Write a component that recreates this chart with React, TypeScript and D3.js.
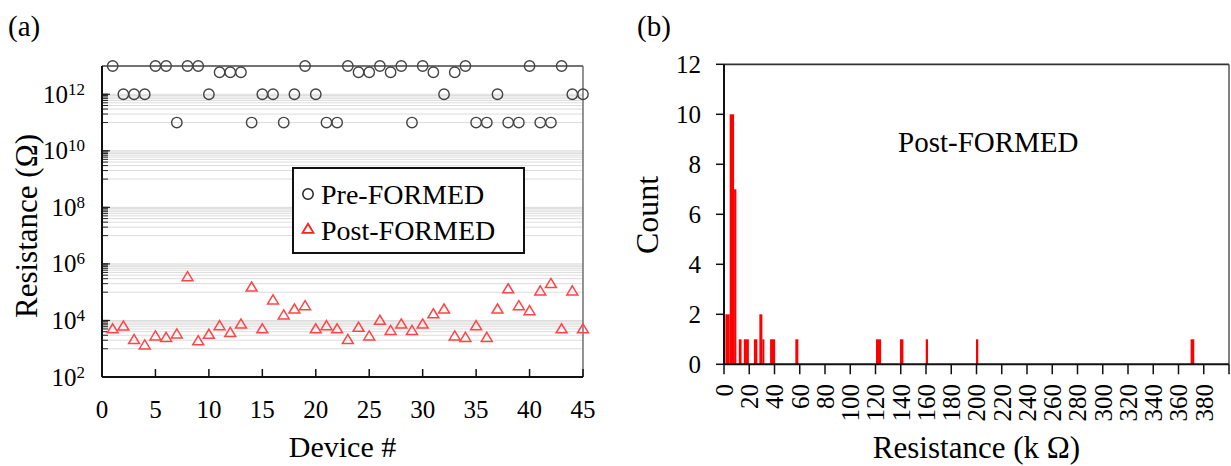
import React from "react";
import * as d3 from "d3";

// ---------- Data: panel (a) ----------
const devices = [1, 2, 3, 4, 5, 6, 7, 8, 9, 10, 11, 12, 13, 14, 15, 16, 17, 18, 19, 20, 21, 22, 23, 24, 25, 26, 27, 28, 29, 30, 31, 32, 33, 34, 35, 36, 37, 38, 39, 40, 41, 42, 43, 44, 45];
const preFormed = [1e13, 1e12, 1e12, 1e12, 1e13, 1e13, 1e11, 1e13, 1e13, 1e12, 6e12, 6e12, 6e12, 1e11, 1e12, 1e12, 1e11, 1e12, 1e13, 1e12, 1e11, 1e11, 1e13, 6e12, 6e12, 1e13, 6e12, 1e13, 1e11, 1e13, 6e12, 1e12, 6e12, 1e13, 1e11, 1e11, 1e12, 1e11, 1e11, 1e13, 1e11, 1e11, 1e13, 1e12, 1e12];
const postFormed = [5.0e3, 6.3e3, 2.1e3, 1.35e3, 2.8e3, 2.5e3, 3.3e3, 3.5e5, 1.9e3, 3.2e3, 6.5e3, 3.7e3, 7.4e3, 1.5e5, 5.0e3, 5.3e4, 1.55e4, 2.5e4, 3.3e4, 5.0e3, 6.5e3, 5.0e3, 2.1e3, 5.7e3, 2.8e3, 1.0e4, 4.4e3, 7.4e3, 4.4e3, 7.4e3, 1.7e4, 2.5e4, 2.8e3, 2.5e3, 6.5e3, 2.5e3, 2.5e4, 1.3e5, 3.3e4, 2.2e4, 1.1e5, 2.0e5, 5.0e3, 1.1e5, 5.0e3];
const xTicksA = [0, 5, 10, 15, 20, 25, 30, 35, 40, 45];
const yExpA = [2, 4, 6, 8, 10, 12];
const gridExpA = [4, 6, 8, 10, 12];
const minorMult = [1, 2, 3, 4, 5, 6, 7, 8, 9, 10];

// ---------- Data: panel (b) histogram (kΩ) ----------
const binStart = [1.1, 4.5, 8.0, 11.7, 15.7, 23.7, 28.0, 30.4, 36.5, 56.5, 120.4, 139.4, 159.8, 199.6, 369.6];
const binEnd = [4.5, 8.0, 9.8, 13.9, 19.7, 26.4, 30.4, 32.0, 40.5, 58.9, 124.4, 142.1, 161.6, 201.4, 372.5];
const binCount = [2, 10, 7, 1, 1, 1, 2, 1, 1, 1, 1, 1, 1, 1, 1];
const xTicksB = [0, 20, 40, 60, 80, 100, 120, 140, 160, 180, 200, 220, 240, 260, 280, 300, 320, 340, 360, 380, 400];
const xLabelsB = [0, 20, 40, 60, 80, 100, 120, 140, 160, 180, 200, 220, 240, 260, 280, 300, 320, 340, 360, 380];
const yTicksB = [0, 2, 4, 6, 8, 10, 12];

const FONT = "Liberation Serif";

export default function App() {
  const xA = d3.scaleLinear().domain([0, 45]).range([102, 583]);
  const yA = d3.scaleLog().domain([1e2, 1e13]).range([377, 66]);
  const xB = d3.scaleLinear().domain([0, 400]).range([724, 1229]);
  const yB = d3.scaleLinear().domain([0, 12]).range([364.3, 64.3]);

  const gridVals: number[] = [];
  gridExpA.forEach((e) => minorMult.forEach((k) => gridVals.push(k * Math.pow(10, e - 1))));

  const tri = (cx: number, cy: number, s = 5.2) =>
    `M${cx},${cy - s}L${cx + s * 1.05},${cy + s * 0.75}L${cx - s * 1.05},${cy + s * 0.75}Z`;

  const [x0A, x1A] = xA.range();
  const [yBot, yTop] = yA.range();
  const ts = { fontFamily: FONT };

  return (
    <svg width={1231} height={466} style={{ position: "absolute", left: 0, top: 0, background: "#fff", fontFamily: FONT }}>
      <rect x={0} y={0} width={1231} height={466} fill="#fff" />
      <text style={ts} x={8} y={36} fontSize={29}>(a)</text>
      <text style={ts} x={637} y={36} fontSize={29}>(b)</text>

      {/* ---------- Panel (a) ---------- */}
      <g>
        {gridVals.map((v, i) => (
          <line key={"g" + i} x1={x0A} x2={x1A} y1={yA(v)} y2={yA(v)} stroke="#dcdcdc" strokeWidth={1} />
        ))}
        {gridVals.map((v, i) => (
          <line key={"mt" + i} x1={x0A} x2={x0A + 6} y1={yA(v)} y2={yA(v)} stroke="#222" strokeWidth={1} />
        ))}
        {yExpA.map((e) => (
          <line key={"mj" + e} x1={x0A} x2={x0A + 8} y1={yA(Math.pow(10, e))} y2={yA(Math.pow(10, e))} stroke="#222" strokeWidth={1.2} />
        ))}
        <line x1={x0A} x2={x1A} y1={yTop} y2={yTop} stroke="#444" strokeWidth={1.6} />
        <line x1={x1A} x2={x1A} y1={yTop} y2={yBot} stroke="#666" strokeWidth={1.4} />
        <line x1={x0A} x2={x0A} y1={yTop} y2={yBot} stroke="#111" strokeWidth={2} />
        <line x1={x0A} x2={x1A} y1={yBot} y2={yBot} stroke="#111" strokeWidth={2} />
        {xTicksA.map((t) => (
          <g key={"xt" + t}>
            <line x1={xA(t)} x2={xA(t)} y1={yBot} y2={yBot - 8} stroke="#111" strokeWidth={1.5} />
            <text style={ts} x={xA(t)} y={418} fontSize={25} textAnchor="middle">{t}</text>
          </g>
        ))}
        {yExpA.map((e) => (
          <text style={ts} key={"yl" + e} x={85} y={yA(Math.pow(10, e)) + 8.5} fontSize={25} textAnchor="end">
            10<tspan fontSize={17} dy={-8}>{e}</tspan>
          </text>
        ))}
        <text style={ts} transform={`translate(37,${226}) rotate(-90)`} fontSize={31} textAnchor="middle">Resistance (Ω)</text>
        <text style={ts} x={342.5} y={457} fontSize={30} textAnchor="middle">Device #</text>

        {devices.map((d, i) => (
          <circle key={"pre" + d} cx={xA(d)} cy={yA(preFormed[i])} r={5.2} fill="none" stroke="#444" strokeWidth={1.4} />
        ))}
        {devices.map((d, i) => (
          <path key={"post" + d} d={tri(xA(d), yA(postFormed[i]))} fill="none" stroke="#ff4545" strokeWidth={1.5} />
        ))}

        <rect x={293} y={168} width={231} height={85} fill="#fff" stroke="#111" strokeWidth={2} />
        <circle cx={308} cy={194} r={5.2} fill="none" stroke="#222" strokeWidth={1.5} />
        <text style={ts} x={321} y={204} fontSize={28}>Pre-FORMED</text>
        <path d={tri(308, 229)} fill="none" stroke="#ff2020" strokeWidth={1.8} />
        <text style={ts} x={321} y={240} fontSize={28}>Post-FORMED</text>
      </g>

      {/* ---------- Panel (b) ---------- */}
      <g>
        {binStart.map((b, i) => (
          <rect key={"bar" + i} x={xB(b)} y={yB(binCount[i])} width={xB(binEnd[i]) - xB(b)} height={yB(0) - yB(binCount[i])} fill="#ff0000" />
        ))}
        <line x1={xB(0)} x2={xB(400)} y1={yB(12)} y2={yB(12)} stroke="#333" strokeWidth={1.8} />
        <line x1={xB(400)} x2={xB(400)} y1={yB(12)} y2={yB(0)} stroke="#555" strokeWidth={1.5} />
        <line x1={xB(0)} x2={xB(0)} y1={yB(12)} y2={yB(0)} stroke="#111" strokeWidth={2} />
        <line x1={xB(0)} x2={xB(400)} y1={yB(0)} y2={yB(0)} stroke="#111" strokeWidth={2} />
        {yTicksB.map((t) => (
          <g key={"ybt" + t}>
            <line x1={xB(0) - 8} x2={xB(0)} y1={yB(t)} y2={yB(t)} stroke="#111" strokeWidth={1.5} />
            <text style={ts} x={701} y={yB(t) + 8.5} fontSize={25} textAnchor="end">{t}</text>
          </g>
        ))}
        {xTicksB.map((t) => (
          <line key={"xbt" + t} x1={xB(t)} x2={xB(t)} y1={yB(0)} y2={yB(0) + 10} stroke="#111" strokeWidth={1.5} />
        ))}
        {xLabelsB.map((t) => (
          <text style={ts} key={"xbl" + t} transform={`translate(${xB(t)},384) rotate(-90)`} dy="0.35em" fontSize={25} textAnchor="end">{t}</text>
        ))}
        <text style={ts} transform={`translate(658,215) rotate(-90)`} fontSize={32} textAnchor="middle">Count</text>
        <text style={ts} x={976.5} y={458} fontSize={31} textAnchor="middle">Resistance (k Ω)</text>
        <text style={ts} x={898} y={152} fontSize={29}>Post-FORMED</text>
      </g>
    </svg>
  );
}
